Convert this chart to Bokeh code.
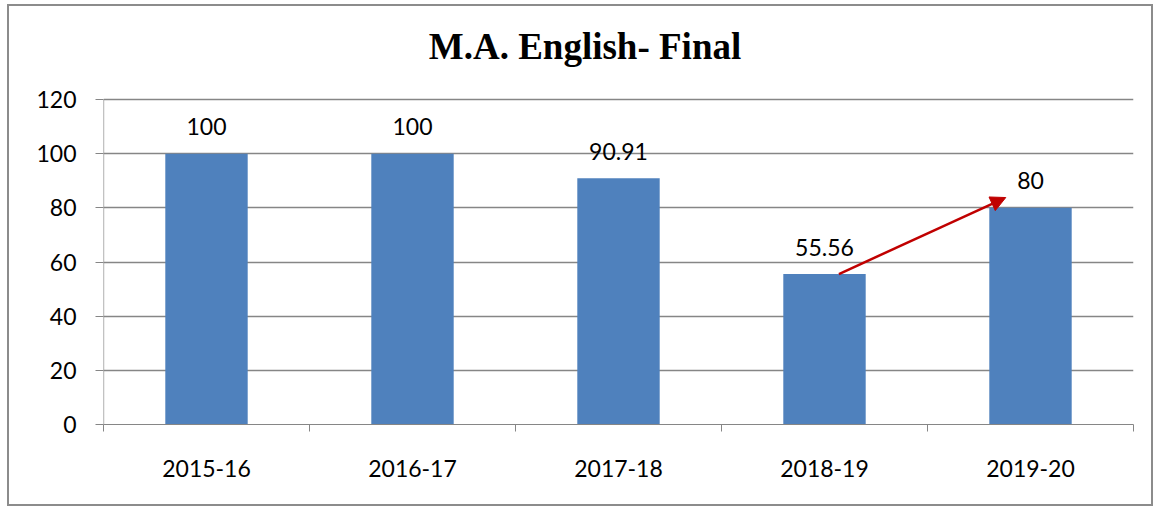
from bokeh.plotting import figure
from bokeh.models import ColumnDataSource, Range1d, FixedTicker, Arrow, NormalHead, Label
from bokeh.core.properties import value
from bokeh.embed import file_html
from bokeh.resources import INLINE

# ---- data ----
years = ["2015-16", "2016-17", "2017-18", "2018-19", "2019-20"]
pass_pct = [100, 100, 90.91, 55.56, 80]
labels = ["100", "100", "90.91", "55.56", "80"]
y_ticks = [0, 20, 40, 60, 80, 100, 120]
arrow_from = (3.57, 55.56)
arrow_to = (4.38, 83.8)
title_text = "M.A. English- Final"

centers = [i + 0.5 for i in range(len(years))]
bounds = list(range(len(years) + 1))
src = ColumnDataSource(dict(x=centers, top=pass_pct, lab=labels))

# canvas placed inside a 2px border starting at (7,4)
OX, OY = 9, 6
W, H = 1155 - OX, 508 - OY
FONT = "Lato"
GRAY = "#868686"
FRAME_L, FRAME_R, FRAME_T, FRAME_B = 103, 1133, 99, 424
Y_MAX = 120
px_per_x = (FRAME_R - FRAME_L) / len(years)
px_per_y = (FRAME_B - FRAME_T) / Y_MAX
# frame is extended to the top of the canvas so the title can live inside it
y_top = Y_MAX + (FRAME_T - OY) / px_per_y

p = figure(width=W, height=H, output_backend="svg", toolbar_location=None,
           x_range=Range1d(0, len(years)), y_range=Range1d(0, y_top),
           min_border_left=FRAME_L - OX, min_border_right=W - (FRAME_R - OX),
           min_border_top=0, min_border_bottom=H - (FRAME_B - OY))
p.styles = {"border": "2px solid #8c8c8c", "margin-left": "7px", "margin-top": "4px"}

p.add_layout(Label(x=(584.5 - FRAME_L) / px_per_x, y=(FRAME_B - 46) / px_per_y,
                   text=title_text, text_align="center", text_baseline="middle",
                   text_font="Liberation Serif", text_font_style="bold",
                   text_font_size="37px", text_color="black"))

p.vbar(x="x", top="top", width=0.4, source=src, fill_color="#4F81BD", line_color=None)
p.text(x="x", y="top", text="lab", source=src, text_align="center", text_baseline="middle",
       y_offset=-27, text_font=value(FONT), text_font_size="23px", text_color="black")

p.add_layout(Arrow(end=NormalHead(size=15, fill_color="#C00000", line_color="#C00000"),
                   x_start=arrow_from[0], y_start=arrow_from[1],
                   x_end=arrow_to[0], y_end=arrow_to[1],
                   line_color="#C00000", line_width=2.5))

# y axis line only over the value range 0..120
p.segment(x0=[0], y0=[0], x1=[0], y1=[Y_MAX], line_color=GRAY, line_width=1.3)

# x axis
p.xaxis.ticker = FixedTicker(ticks=centers, minor_ticks=bounds)
p.xaxis.major_label_overrides = {c: y for c, y in zip(centers, years)}
p.xaxis.major_tick_out = 0
p.xaxis.major_tick_in = 0
p.xaxis.minor_tick_out = 7
p.xaxis.minor_tick_in = 0
p.xaxis.minor_tick_line_color = GRAY
p.xaxis.axis_line_color = GRAY
p.xaxis.major_label_text_font = FONT
p.xaxis.major_label_text_font_size = "23px"
p.xaxis.major_label_text_color = "black"
p.xaxis.major_label_standoff = 28

# y axis
p.yaxis.ticker = FixedTicker(ticks=y_ticks)
p.yaxis.major_tick_out = 8
p.yaxis.major_tick_in = 0
p.yaxis.minor_tick_line_color = None
p.yaxis.major_tick_line_color = GRAY
p.yaxis.axis_line_color = None
p.yaxis.major_label_text_font = FONT
p.yaxis.major_label_text_font_size = "23px"
p.yaxis.major_label_text_color = "black"
p.yaxis.major_label_standoff = 19

p.xgrid.grid_line_color = None
p.ygrid.grid_line_color = GRAY
p.ygrid.grid_line_width = 1.3
p.outline_line_color = None

open("out.html", "w").write(file_html(p, INLINE))
